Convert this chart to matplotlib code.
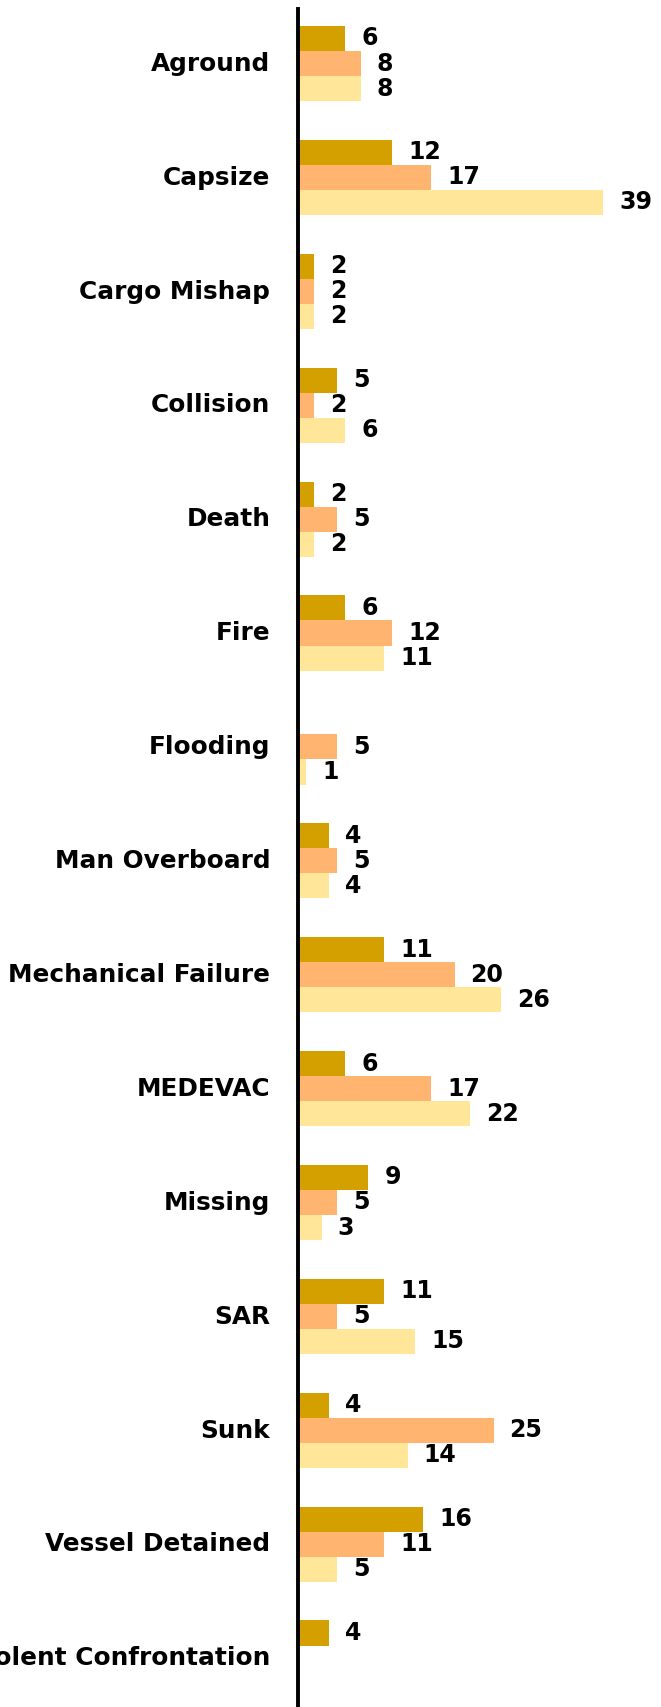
import numpy as np
import matplotlib.pyplot as plt

categories = ['Aground', 'Capsize', 'Cargo Mishap', 'Collision', 'Death', 'Fire',
              'Flooding', 'Man Overboard', 'Mechanical Failure', 'MEDEVAC',
              'Missing', 'SAR', 'Sunk', 'Vessel Detained', 'Violent Confrontation']
series_a = [6, 12, 2, 5, 2, 6, np.nan, 4, 11, 6, 9, 11, 4, 16, 4]
series_b = [8, 17, 2, 2, 5, 12, 5, 5, 20, 17, 5, 5, 25, 11, np.nan]
series_c = [8, 39, 2, 6, 2, 11, 1, 4, 26, 22, 3, 15, 14, 5, np.nan]
colors = ['#D4A000', '#FFB570', '#FFE699']

fig = plt.figure(figsize=(6.61, 17.07), dpi=100)
ax = fig.add_axes([0.451, -0.0047, 0.549, 0.9995])

y = np.arange(len(categories))
h = 0.22
for k, (vals, col) in enumerate(zip([series_a, series_b, series_c], colors)):
    ys = y + (k - 1) * h
    ax.barh(ys, vals, height=h, color=col)
    for yy, v in zip(ys, vals):
        if np.isnan(v):
            continue
        ax.annotate(f'{v:g}', xy=(v, yy), xytext=(11.5, 0), textcoords='offset points',
                    ha='left', va='center', fontsize=17, fontweight='bold')

ax.set_xlim(0, 46.4)
ax.set_ylim(14.5, -0.48)
ax.set_yticks(y - 0.02)
ax.set_yticklabels(categories, fontsize=17.8, fontweight='bold')
ax.tick_params(axis='y', length=0, pad=20)
ax.set_xticks([])
for s in ['top', 'right', 'bottom']:
    ax.spines[s].set_visible(False)
ax.spines['left'].set_linewidth(2.8)
ax.patch.set_alpha(0)

plt.savefig('out.png', dpi=100)
plt.close()
